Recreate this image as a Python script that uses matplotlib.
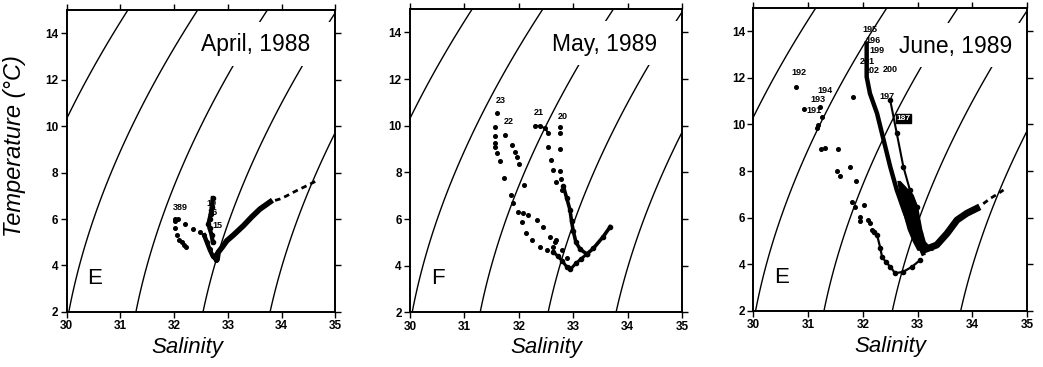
import numpy as np
import matplotlib
matplotlib.use("Agg")
import matplotlib.pyplot as plt
from matplotlib.patches import Rectangle

plt.rcParams['font.family'] = ['Liberation Sans', 'DejaVu Sans']

# ---- April 1988 ----
apr_a_s = [32.02, 32.08, 32.2, 32.36, 32.48, 32.56, 32.61, 32.66, 32.72, 32.78]
apr_a_t = [6.0, 5.98, 5.8, 5.56, 5.42, 5.3, 5.0, 4.7, 4.4, 4.25]
apr_b_s = [32.02, 32.02, 32.05, 32.1, 32.14, 32.19, 32.23]
apr_b_t = [5.9, 5.6, 5.3, 5.1, 4.99, 4.88, 4.78]
apr_c_s = [32.72, 32.7, 32.68, 32.66, 32.64, 32.66, 32.7, 32.72]
apr_c_t = [6.9, 6.5, 6.2, 6.0, 5.8, 5.6, 5.3, 5.0]
apr_d_s = [32.76, 32.8, 32.82, 32.9, 32.98, 33.1, 33.29, 33.45, 33.6, 33.79]
apr_d_t = [4.4, 4.25, 4.56, 4.8, 5.06, 5.3, 5.71, 6.1, 6.43, 6.74]
apr_tail_s = [33.88, 33.97, 34.1, 34.22, 34.35, 34.47, 34.57, 34.66]
apr_tail_t = [6.8, 6.86, 7.0, 7.15, 7.3, 7.43, 7.55, 7.65]
apr_lab = ["389", "19", "16", "15"]
apr_lab_s = [32.11, 32.70, 32.72, 32.80]
apr_lab_t = [6.5, 6.68, 6.3, 5.72]

# ---- May 1989 ----
may_23_s = [31.60, 31.56, 31.56, 31.56, 31.57, 31.59, 31.65, 31.73, 31.85, 31.90, 31.99, 32.05,
            32.14, 32.24, 32.39, 32.51, 32.63, 32.69]
may_23_t = [10.53, 9.96, 9.56, 9.24, 9.07, 8.82, 8.5, 7.74, 7.03, 6.67, 6.31, 5.88,
            5.39, 5.10, 4.81, 4.67, 4.81, 5.10]
may_22_s = [31.75, 31.88, 31.93, 31.97, 32.01, 32.10, 32.08, 32.17, 32.33, 32.45, 32.57, 32.67,
            32.79, 32.88, 32.91]
may_22_t = [9.6, 9.17, 8.88, 8.64, 8.34, 7.46, 6.24, 6.17, 5.96, 5.67, 5.24, 5.03,
            4.67, 4.31, 3.95]
may_21_s = [32.30, 32.39, 32.48, 32.54, 32.54, 32.60, 32.63, 32.69, 32.79]
may_21_t = [10.0, 9.99, 9.89, 9.7, 9.1, 8.53, 8.1, 7.6, 7.24]
may_20_s = [32.75, 32.75, 32.76, 32.76, 32.78]
may_20_t = [9.96, 9.7, 9.0, 8.07, 7.7]
may_dense_s = [32.82, 32.88, 32.94, 32.97, 33.0, 33.05, 33.13, 33.25, 33.37, 33.55, 33.68]
may_dense_t = [7.4, 6.9, 6.4, 5.9, 5.5, 5.0, 4.7, 4.5, 4.74, 5.24, 5.67]
may_bot_s = [32.63, 32.72, 32.8, 32.88, 32.95, 33.05, 33.15, 33.25]
may_bot_t = [4.6, 4.4, 4.2, 3.95, 3.85, 4.1, 4.3, 4.5]
may_lab = ["23", "22", "21", "20"]
may_lab_s = [31.67, 31.81, 32.37, 32.81]
may_lab_t = [11.07, 10.17, 10.57, 10.41]

# ---- June 1989 ----
jun_dots_s = [30.78, 30.93, 31.22, 31.25, 31.19, 31.17, 31.82, 31.24, 31.31, 31.55, 31.52, 31.58,
              31.77, 31.88, 31.80, 31.86, 32.02, 31.95, 31.95, 32.10, 32.13, 32.16]
jun_dots_t = [11.61, 10.66, 10.73, 10.33, 9.97, 9.86, 11.16, 8.94, 9.0, 8.94, 8.01, 7.78,
              8.16, 7.57, 6.68, 6.44, 6.54, 6.04, 5.87, 5.90, 5.76, 5.47]
jun_low_s = [32.2, 32.26, 32.32, 32.35, 32.42, 32.50, 32.59, 32.74, 32.90, 33.05]
jun_low_t = [5.4, 5.26, 4.69, 4.33, 4.1, 3.90, 3.62, 3.68, 3.90, 4.19]
jun_b1_s = [32.07, 32.07, 32.13, 32.26, 32.38, 32.50, 32.62, 32.77, 32.93, 33.05, 33.1]
jun_b1_t = [13.47, 12.04, 11.33, 10.47, 9.33, 8.19, 7.19, 6.19, 5.33, 4.76, 4.47]
jun_b2_s = [32.5, 32.62, 32.74, 32.86, 32.99, 33.05, 33.1]
jun_b2_t = [11.04, 9.62, 8.19, 7.19, 6.47, 5.33, 4.76]
jun_band_t = [7.6, 7.0, 6.5, 6.0, 5.5, 5.0, 4.6]
jun_band_lo = [32.62, 32.66, 32.70, 32.75, 32.81, 32.90, 32.99]
jun_band_hi = [32.68, 32.92, 33.00, 33.04, 33.08, 33.14, 33.29]
jun_right_s = [33.11, 33.35, 33.54, 33.72, 33.9, 34.08]
jun_right_t = [4.61, 4.83, 5.33, 5.9, 6.19, 6.40]
jun_rtail_s = [34.2, 34.33, 34.45, 34.57]
jun_rtail_t = [6.6, 6.83, 7.0, 7.19]
jun_lab = ["195", "196", "199", "201", "202", "200", "197", "194", "193", "191", "192"]
jun_lab_s = [32.13, 32.18, 32.26, 32.08, 32.18, 32.50, 32.45, 31.30, 31.18, 31.10, 30.84]
jun_lab_t = [14.07, 13.58, 13.18, 12.7, 12.3, 12.36, 11.19, 11.45, 11.08, 10.6, 12.21]
jun_box_lab = "187"

titles = ["April, 1988", "May, 1989", "June, 1989"]
title_pos = [(33.51, 13.5), (33.57, 13.5), (33.69, 13.36)]
letters = ["E", "F", "E"]

# sigma-t background (UNESCO EOS-80 at surface pressure)
S, T = np.meshgrid(np.linspace(29.9, 35.1, 300), np.linspace(1.9, 15.1, 300))
rw = (999.842594 + 6.793952e-2 * T - 9.095290e-3 * T**2 + 1.001685e-4 * T**3
      - 1.120083e-6 * T**4 + 6.536332e-9 * T**5)
rho = (rw + S * (0.824493 - 4.0899e-3 * T + 7.6438e-5 * T**2 - 8.2467e-7 * T**3 + 5.3875e-9 * T**4)
       + S**1.5 * (-5.72466e-3 + 1.0227e-4 * T - 1.6546e-6 * T**2) + 4.8314e-4 * S**2)
sigma = rho - 1000

fig = plt.figure(figsize=(10.43, 3.67), dpi=100)
positions = [[0.0639, 0.150, 0.2575, 0.823],
             [0.3931, 0.149, 0.2608, 0.826],
             [0.7223, 0.1526, 0.2624, 0.826]]
axes = [fig.add_axes(p) for p in positions]

for i, ax in enumerate(axes):
    ax.contour(S, T, sigma, levels=[23, 24, 25, 26, 27], colors='black', linewidths=1.0, zorder=1)
    ax.set_xlim(30, 35)
    ax.set_ylim(2, 15)
    ax.set_xticks([30, 31, 32, 33, 34, 35])
    ax.set_yticks([2, 4, 6, 8, 10, 12, 14])
    ax.tick_params(direction='out', length=4, width=1, labelsize=8.5, top=True, right=True, pad=2)
    for lab in ax.get_xticklabels() + ax.get_yticklabels():
        lab.set_fontweight('bold')
    for sp in ax.spines.values():
        sp.set_linewidth(1.4)
    ax.set_xlabel("Salinity", fontsize=16, style='italic')
    ax.xaxis.set_label_coords(0.5, -0.082)
    s0, t0 = title_pos[i]
    ax.add_patch(Rectangle((s0 - 1.0, t0 - 0.9), 3.0, 1.9, facecolor='white', edgecolor='none', zorder=2))
    ax.text(s0, t0, titles[i], fontsize=16.5, ha='center', va='center', zorder=5)
    ax.text(30.52, 3.45, letters[i], fontsize=16, ha='center', va='center', color='black', zorder=5)

axes[0].xaxis.set_label_coords(0.448, -0.082)
axes[0].set_ylabel("Temperature (°C)", fontsize=17, style='italic')
axes[0].yaxis.set_label_coords(-0.15, 0.549)

dot = dict(color='black', linestyle='none', marker='o', markersize=2.6, zorder=4)
lab_kw = dict(fontsize=6.5, fontweight='bold', ha='center', va='center', zorder=6)

# April
ax = axes[0]
ax.plot(apr_a_s, apr_a_t, **dot)
ax.plot(apr_a_s[5:], apr_a_t[5:], color='black', lw=3.2, zorder=4)
ax.plot(apr_b_s, apr_b_t, **dot)
ax.plot(apr_c_s, apr_c_t, color='black', lw=3, marker='o', markersize=3, zorder=4)
ax.plot(apr_d_s, apr_d_t, color='black', lw=4, zorder=4)
ax.plot(apr_tail_s, apr_tail_t, color='black', lw=2, linestyle=(0, (2, 1.5)), zorder=4)
for s, t, l in zip(apr_lab_s, apr_lab_t, apr_lab):
    ax.text(s, t, l, **lab_kw)

# May
ax = axes[1]
ax.plot(may_23_s, may_23_t, **dot)
ax.plot(may_22_s, may_22_t, **dot)
ax.plot(may_21_s, may_21_t, **dot)
ax.plot(may_21_s[:4], may_21_t[:4], color='black', lw=1.5, zorder=4)
ax.plot(may_20_s, may_20_t, **dot)
ax.plot(may_dense_s, may_dense_t, color='black', lw=2.6, marker='o', markersize=3, zorder=4)
ax.plot(may_bot_s, may_bot_t, color='black', lw=2.2, marker='o', markersize=3, zorder=4)
for s, t, l in zip(may_lab_s, may_lab_t, may_lab):
    ax.text(s, t, l, **lab_kw)

# June
ax = axes[2]
ax.plot(jun_dots_s, jun_dots_t, **dot)
ax.plot(jun_low_s, jun_low_t, color='black', lw=1.6, marker='o', markersize=3, zorder=4)
ax.plot(jun_b1_s, jun_b1_t, color='black', lw=3.2, zorder=4)
ax.plot(jun_b2_s, jun_b2_t, color='black', lw=1.5, marker='o', markersize=3, zorder=4)
ax.fill_betweenx(jun_band_t, jun_band_lo, jun_band_hi, color='black', lw=0, zorder=4)
ax.plot(jun_right_s, jun_right_t, color='black', lw=5, zorder=4)
ax.plot(jun_rtail_s, jun_rtail_t, color='black', lw=2, linestyle=(0, (2, 1.5)), zorder=4)
for s, t, l in zip(jun_lab_s, jun_lab_t, jun_lab):
    ax.text(s, t, l, **lab_kw)
ax.text(32.74, 10.26, jun_box_lab, fontsize=6, fontweight='bold', color='white', ha='center',
        va='center', zorder=6, bbox=dict(boxstyle='square,pad=0.1', fc='black', ec='black'))

fig.savefig("out.png", dpi=100)
